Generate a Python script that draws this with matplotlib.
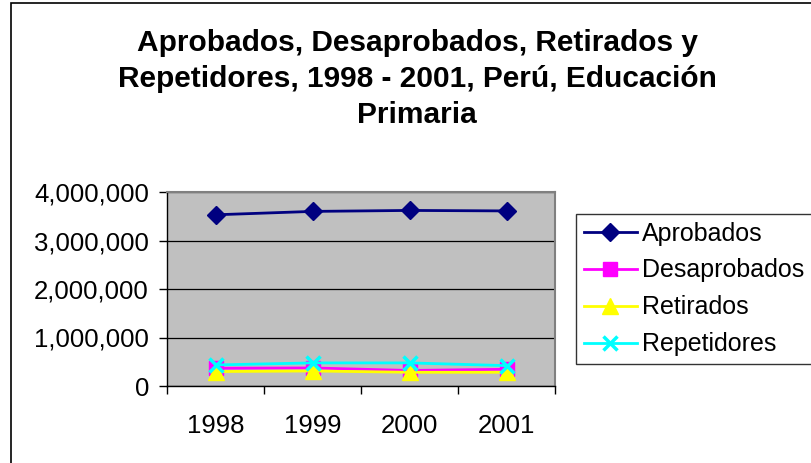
import matplotlib
matplotlib.use("Agg")
import matplotlib.pyplot as plt
from matplotlib.patches import Rectangle
from matplotlib.ticker import FuncFormatter

plt.rcParams['font.family'] = ['Liberation Sans', 'DejaVu Sans']

# Data
years = ["1998", "1999", "2000", "2001"]
aprobados = [3530000, 3600000, 3620000, 3610000]
desaprobados = [366000, 372000, 320000, 345000]
retirados = [298000, 310000, 283000, 283000]
repetidores = [434000, 476000, 476000, 420000]

W, H = 811, 463
fig = plt.figure(figsize=(W / 100, H / 100), dpi=100)

# Outer chart border (cropped on right/bottom in the original)
fig.patches.append(Rectangle((11 / W, -0.1), 1.2, 1 - 3 / H + 0.1,
                             transform=fig.transFigure, fill=False,
                             edgecolor="black", lw=1.2))

ax = fig.add_axes([167 / W, 1 - 386 / H, (555 - 167) / W, (386 - 192) / H])
ax.set_facecolor("#C0C0C0")

x = range(1, len(years) + 1)
ax.plot(x, aprobados, color="#000080", marker="D", markersize=9, lw=2,
        label="Aprobados")
ax.plot(x, desaprobados, color="#FF00FF", marker="s", markersize=10, lw=2,
        label="Desaprobados")
ax.plot(x, retirados, color="#FFFF00", marker="^", markersize=11, lw=2,
        label="Retirados")
ax.plot(x, repetidores, color="#00FFFF", marker="x", markersize=10, mew=2.5,
        lw=2, label="Repetidores")

ax.set_xlim(0.5, 4.5)
ax.set_ylim(0, 4000000)
ax.set_yticks([0, 1000000, 2000000, 3000000, 4000000])
ax.yaxis.set_major_formatter(FuncFormatter(lambda v, p: f"{int(v):,}"))
ax.grid(axis="y", color="black", lw=0.9)
ax.set_axisbelow(True)

# category boundaries carry the tick marks, labels sit in between
ax.set_xticks([0.5, 1.5, 2.5, 3.5, 4.5])
ax.set_xticklabels([])
ax.set_xticks(list(x), minor=True)
ax.set_xticklabels(years, minor=True)
ax.tick_params(axis="x", which="major", length=6, width=1, color="black")
ax.tick_params(axis="x", which="minor", length=0, pad=20, labelsize=18.5)
ax.tick_params(axis="y", length=6, width=1, pad=7, labelsize=18.5)

for s in ["top", "right"]:
    ax.spines[s].set_color("#808080")
    ax.spines[s].set_linewidth(1.5)
for s in ["left", "bottom"]:
    ax.spines[s].set_color("black")
    ax.spines[s].set_linewidth(1)

fig.text(417 / W, 1 - 79 / H,
         "Aprobados, Desaprobados, Retirados y\n"
         "Repetidores, 1998 - 2001, Perú, Educación\nPrimaria",
         ha="center", va="center", fontsize=21.5, fontweight="bold",
         linespacing=1.38)

leg = fig.legend(loc="upper left",
                 bbox_to_anchor=(576 / W, 1 - 214 / H - 0.01,
                                 (840 - 576) / W, 0.01),
                 mode="expand", fontsize=18, frameon=True, fancybox=False,
                 edgecolor="black", handlelength=2.15, handletextpad=0.2,
                 labelspacing=0.52, borderpad=0.3, borderaxespad=0)
leg.get_frame().set_linewidth(1)

fig.savefig("out.png", dpi=100)
